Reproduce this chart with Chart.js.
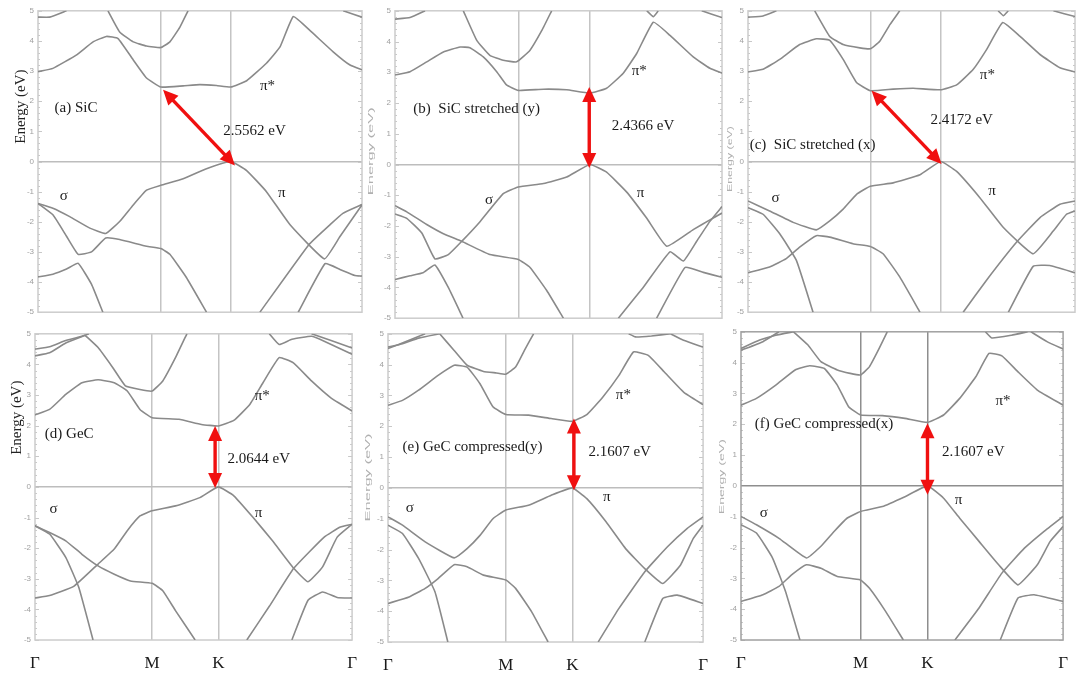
<!DOCTYPE html>
<html>
<head>
<meta charset="utf-8">
<script src="https://cdn.jsdelivr.net/npm/chart.js@4.4.0/dist/chart.umd.min.js"></script>
<style>
  html, body { margin: 0; padding: 0; background: #fff; }
  #wrap { position: relative; width: 1079px; height: 675px; overflow: hidden; }
  #wrap canvas { position: absolute; }
</style>
</head>
<body>
<div id="wrap"></div>
<script>
// bands as [k along Γ-M-K-Γ (0..1), energy in eV]
const bandsA = [
  [[0,2.98],[0.046,3.09],[0.118,3.53],[0.170,3.97],[0.211,4.15],[0.247,4.08],[0.294,3.37],[0.335,2.77],[0.379,2.47],[0.448,2.51],[0.499,2.55],[0.551,2.52],[0.595,2.47],[0.644,2.68],[0.705,3.26],[0.747,3.80],[0.788,4.81],[0.839,4.35],[0.911,3.64],[0.963,3.2],[1,3.04]],
  [[0.216,5],[0.252,4.3],[0.294,3.97],[0.335,3.83],[0.379,3.78],[0.407,3.97],[0.438,4.46],[0.463,5]],
  [[0,4.79],[0.036,4.79],[0.088,5]],
  [[0.942,5],[1,4.79]],
  [[0,-1.39],[0.046,-1.55],[0.098,-1.83],[0.16,-2.21],[0.209,-2.39],[0.252,-1.99],[0.294,-1.44],[0.335,-0.95],[0.379,-0.79],[0.448,-0.57],[0.52,-0.24],[0.595,0],[0.644,-0.3],[0.705,-1.0],[0.778,-2.1],[0.884,-3.23],[0.932,-2.49],[0.989,-1.61],[1,-1.45]],
  [[0,-1.39],[0.046,-1.77],[0.088,-2.48],[0.124,-3.08],[0.165,-3.0],[0.209,-2.54],[0.252,-2.59],[0.335,-2.81],[0.379,-2.89],[0.407,-3.08],[0.458,-3.85],[0.52,-5]],
  [[0,-3.83],[0.046,-3.74],[0.088,-3.57],[0.124,-3.38],[0.165,-4.07],[0.2,-5]],
  [[0.685,-5],[0.836,-2.76],[0.901,-2.1],[0.941,-1.72],[1,-1.43]],
  [[0.803,-5],[0.886,-3.39],[0.932,-3.58],[0.978,-3.78],[1,-3.8]]
];
const bandsB = [
  [[0,2.91],[0.046,3.02],[0.097,3.34],[0.148,3.66],[0.199,3.82],[0.229,3.80],[0.27,3.5],[0.311,3.02],[0.341,2.59],[0.377,2.41],[0.454,2.45],[0.525,2.43],[0.596,2.32],[0.647,2.48],[0.698,2.97],[0.739,3.61],[0.79,4.63],[0.841,4.2],[0.912,3.5],[0.963,3.13],[1,2.97]],
  [[0.209,5],[0.25,4.04],[0.29,3.55],[0.331,3.39],[0.372,3.34],[0.413,3.72],[0.449,4.36],[0.479,5]],
  [[0,4.73],[0.046,4.78],[0.092,5]],
  [[0.938,5],[1,4.78]],
  [[0.77,5],[0.79,4.81],[0.805,5]],
  [[0,-1.61],[0.036,-1.75],[0.082,-2.23],[0.122,-3.07],[0.163,-2.93],[0.204,-2.5],[0.26,-1.86],[0.331,-0.95],[0.377,-0.73],[0.454,-0.62],[0.525,-0.41],[0.596,0],[0.647,-0.25],[0.708,-0.89],[0.77,-1.75],[0.831,-2.66],[0.912,-2.12],[0.963,-1.8],[1,-1.58]],
  [[0,-1.34],[0.036,-1.54],[0.097,-1.95],[0.148,-2.25],[0.204,-2.5],[0.29,-2.93],[0.377,-3.09],[0.413,-3.35],[0.464,-4.1],[0.515,-5]],
  [[0,-3.74],[0.046,-3.62],[0.086,-3.52],[0.122,-3.27],[0.163,-4.0],[0.208,-5]],
  [[0.683,-5],[0.759,-4.0],[0.841,-2.84],[0.882,-3.14],[0.923,-2.49],[0.963,-1.85],[1,-1.37]],
  [[0.8,-5],[0.887,-3.35],[0.943,-3.51],[1,-3.67]]
];
const bandsC = [
  [[0,2.97],[0.046,3.06],[0.097,3.39],[0.158,3.88],[0.209,4.07],[0.25,4.02],[0.291,3.39],[0.332,2.62],[0.374,2.35],[0.444,2.40],[0.505,2.43],[0.589,2.38],[0.638,2.54],[0.689,3.06],[0.73,3.72],[0.779,4.61],[0.832,4.15],[0.893,3.55],[0.954,3.11],[1,2.97]],
  [[0.204,5],[0.25,4.15],[0.291,3.88],[0.342,3.77],[0.374,3.74],[0.403,3.99],[0.434,4.54],[0.464,5]],
  [[0,4.79],[0.046,4.83],[0.087,5]],
  [[0.934,5],[1,4.81]],
  [[0.765,5],[0.781,4.84],[0.796,5]],
  [[0,-1.31],[0.066,-1.64],[0.138,-2.02],[0.209,-2.27],[0.25,-1.97],[0.291,-1.58],[0.332,-1.09],[0.374,-0.82],[0.444,-0.71],[0.526,-0.44],[0.589,0],[0.638,-0.33],[0.709,-1.2],[0.781,-2.19],[0.872,-3.06],[0.934,-2.3],[0.974,-1.75],[1,-1.64]],
  [[0,-1.53],[0.046,-1.75],[0.097,-2.4],[0.148,-3.28],[0.199,-5]],
  [[0,-3.69],[0.066,-3.5],[0.117,-3.22],[0.158,-2.84],[0.209,-2.46],[0.25,-2.51],[0.321,-2.73],[0.374,-2.82],[0.413,-3.06],[0.464,-3.83],[0.526,-5]],
  [[0.658,-5],[0.73,-3.93],[0.821,-2.68],[0.893,-1.86],[0.954,-1.42],[1,-1.31]],
  [[0.796,-5],[0.872,-3.48],[0.923,-3.45],[1,-3.69]]
];
const bandsD = [
  [[0,2.35],[0.046,2.53],[0.097,3.02],[0.148,3.4],[0.199,3.5],[0.25,3.4],[0.291,3.13],[0.331,2.53],[0.369,2.26],[0.454,2.21],[0.525,2.04],[0.578,1.99],[0.627,2.17],[0.678,2.7],[0.719,3.4],[0.77,4.22],[0.815,4.05],[0.872,3.46],[0.933,2.91],[1,2.48]],
  [[0.158,4.95],[0.199,4.55],[0.245,3.9],[0.285,3.3],[0.331,3.18],[0.369,3.13],[0.403,3.46],[0.443,4.22],[0.479,5]],
  [[0,4.5],[0.046,4.58],[0.097,4.78],[0.158,4.95]],
  [[0,4.28],[0.046,4.38],[0.097,4.7],[0.158,4.95],[0.17,5]],
  [[0.739,5],[0.77,4.65],[0.81,4.82],[0.872,4.92],[0.912,4.76],[1,4.33]],
  [[0.872,5],[1,4.54]],
  [[0,-3.63],[0.046,-3.55],[0.122,-3.25],[0.199,-2.52],[0.25,-2.03],[0.291,-1.43],[0.331,-0.95],[0.369,-0.78],[0.443,-0.62],[0.52,-0.35],[0.578,0],[0.627,-0.29],[0.688,-1.0],[0.749,-1.76],[0.816,-2.66],[0.861,-3.1],[0.907,-2.61],[0.953,-1.64],[1,-1.22]],
  [[0,-1.27],[0.046,-1.49],[0.097,-1.76],[0.148,-2.2],[0.199,-2.58],[0.25,-2.85],[0.301,-3.07],[0.369,-3.15],[0.403,-3.39],[0.443,-4.04],[0.505,-5]],
  [[0,-1.27],[0.046,-1.54],[0.097,-2.3],[0.138,-3.28],[0.183,-5]],
  [[0.668,-5],[0.739,-3.9],[0.816,-2.66],[0.912,-1.64],[0.963,-1.31],[1,-1.22]],
  [[0.81,-5],[0.861,-3.7],[0.907,-3.43],[0.953,-3.61],[1,-3.63]]
];
const bandsE = [
  [[0,2.68],[0.046,2.84],[0.097,3.17],[0.159,3.65],[0.21,3.98],[0.251,3.92],[0.292,3.38],[0.333,2.63],[0.374,2.38],[0.446,2.36],[0.518,2.25],[0.585,2.16],[0.631,2.38],[0.682,2.95],[0.733,3.65],[0.779,4.41],[0.826,4.3],[0.877,3.76],[0.938,3.11],[1,2.7]],
  [[0.164,5],[0.21,4.46],[0.251,3.98],[0.303,3.78],[0.344,3.73],[0.374,3.69],[0.405,3.92],[0.436,4.52],[0.462,5]],
  [[0,4.57],[0.046,4.68],[0.097,4.86],[0.164,5]],
  [[0,4.52],[0.067,4.79],[0.118,5]],
  [[0.764,5],[0.785,4.9],[0.836,4.93],[0.897,5]],
  [[0.897,5],[0.938,4.79],[1,4.57]],
  [[0,-0.94],[0.046,-1.21],[0.118,-1.75],[0.21,-2.27],[0.251,-1.97],[0.292,-1.54],[0.333,-1.0],[0.374,-0.72],[0.446,-0.56],[0.518,-0.24],[0.585,0],[0.631,-0.35],[0.692,-1.1],[0.754,-1.97],[0.815,-2.62],[0.872,-3.1],[0.928,-2.51],[0.969,-1.64],[1,-1.21]],
  [[0,-1.21],[0.046,-1.48],[0.097,-2.29],[0.149,-3.37],[0.19,-5]],
  [[0,-3.75],[0.067,-3.54],[0.118,-3.26],[0.159,-2.94],[0.21,-2.49],[0.251,-2.56],[0.303,-2.83],[0.374,-2.99],[0.405,-3.26],[0.456,-4.02],[0.508,-5]],
  [[0.667,-5],[0.733,-3.91],[0.815,-2.72],[0.887,-1.91],[0.949,-1.32],[1,-0.94]],
  [[0.815,-5],[0.872,-3.59],[0.918,-3.48],[1,-3.75]]
];
const bandsF = [
  [[0,2.62],[0.048,2.84],[0.108,3.27],[0.168,3.76],[0.213,3.9],[0.259,3.81],[0.299,3.27],[0.334,2.57],[0.371,2.3],[0.439,2.28],[0.509,2.19],[0.579,2.06],[0.629,2.3],[0.679,2.84],[0.729,3.54],[0.77,4.3],[0.81,4.22],[0.86,3.7],[0.92,3.11],[1,2.62]],
  [[0.163,5],[0.208,4.57],[0.248,4.03],[0.299,3.76],[0.339,3.65],[0.371,3.6],[0.399,3.87],[0.429,4.46],[0.454,5]],
  [[0,4.46],[0.058,4.73],[0.108,4.89],[0.163,5]],
  [[0,4.4],[0.068,4.68],[0.118,5]],
  [[0.759,5],[0.779,4.8],[0.84,4.89],[0.89,5]],
  [[0.9,5],[0.95,4.68],[1,4.44]],
  [[0,-0.99],[0.048,-1.26],[0.118,-1.7],[0.203,-2.34],[0.249,-1.95],[0.289,-1.48],[0.329,-1.05],[0.371,-0.83],[0.439,-0.67],[0.509,-0.35],[0.579,0],[0.629,-0.4],[0.679,-1.05],[0.739,-1.8],[0.8,-2.56],[0.86,-3.21],[0.92,-2.56],[0.96,-1.8],[1,-1.32]],
  [[0,-1.26],[0.048,-1.53],[0.098,-2.34],[0.138,-3.42],[0.183,-5]],
  [[0,-3.75],[0.068,-3.53],[0.118,-3.26],[0.158,-2.88],[0.203,-2.56],[0.248,-2.67],[0.299,-2.94],[0.371,-3.05],[0.399,-3.32],[0.449,-4.07],[0.504,-5]],
  [[0.664,-5],[0.739,-3.96],[0.81,-2.83],[0.88,-2.02],[0.94,-1.48],[1,-0.99]],
  [[0.805,-5],[0.86,-3.64],[0.91,-3.53],[1,-3.75]]
];

const panelNames = ['(a) SiC', '(b)  SiC stretched (y)', '(c)  SiC stretched (x)',
                    '(d) GeC', '(e) GeC compressed(y)', '(f) GeC compressed(x)'];
const gapValues = ['2.5562 eV', '2.4366 eV', '2.4172 eV', '2.0644 eV', '2.1607 eV', '2.1607 eV'];
// gap arrow ends [k1, E1, k2, E2]
const gapArrows = [
  [0.386, 2.38, 0.608, -0.13],
  [0.594, 2.52, 0.594, -0.11],
  [0.378, 2.35, 0.592, -0.08],
  [0.568, 1.99, 0.568, -0.04],
  [0.59, 2.25, 0.59, -0.08],
  [0.579, 2.03, 0.579, -0.29]
];
// positions of M and K on the path
const highSym = [[0.379, 0.595], [0.377, 0.596], [0.374, 0.589], [0.369, 0.578], [0.374, 0.585], [0.371, 0.579]];
const pathLabels = ['Γ', 'M', 'K', 'Γ'];
const bandSymbols = ['π*', 'π', 'σ'];
const allBands = [bandsA, bandsB, bandsC, bandsD, bandsE, bandsF];

// layout: plot boxes in page pixels
const boxes = [
  {L: 38,  T: 10,  R: 362,  B: 315, yw: 38, xh: 6},
  {L: 395, T: 10,  R: 722,  B: 321, yw: 30, xh: 6},
  {L: 748, T: 10,  R: 1075, B: 315, yw: 30, xh: 6},
  {L: 35,  T: 333, R: 362,  B: 640, yw: 35, xh: 36},
  {L: 388, T: 333, R: 713,  B: 642, yw: 30, xh: 36},
  {L: 741, T: 331, R: 1073, B: 640, yw: 30, xh: 36}
];
// text anchor positions (k, E): title, gap, π*, π, σ
const notePos = [
  [[0.051, 1.78], [0.572, 1.02], [0.685, 2.51], [0.741, -1.06], [0.067, -1.15]],
  [[0.056, 1.79], [0.663, 1.25], [0.724, 3.04], [0.739, -0.94], [0.275, -1.16]],
  [[0.005, 0.55], [0.558, 1.37], [0.709, 2.86], [0.735, -0.98], [0.072, -1.2]],
  [[0.031, 1.72], [0.607, 0.9],  [0.693, 2.97], [0.693, -0.84], [0.046, -0.73]],
  [[0.046, 1.33], [0.636, 1.17], [0.723, 3.0],  [0.682, -0.29], [0.056, -0.67]],
  [[0.043, 2.0],  [0.624, 1.11], [0.79, 2.75],  [0.664, -0.45], [0.058, -0.89]]
];
// y title: distance left of plot, centre energy, font size, colour, stretched length
const yTitles = [
  {dx: 17, E: 1.82, size: 15, color: '#222', len: 0},
  {dx: 24, E: 0.43, size: 8, color: '#b0b0b0', len: 88},
  {dx: 18, E: 0.08, size: 8, color: '#b0b0b0', len: 66},
  {dx: 18, E: 2.26, size: 15, color: '#222', len: 0},
  {dx: 20, E: 0.34, size: 8, color: '#b0b0b0', len: 88},
  {dx: 19, E: 0.3, size: 8, color: '#b0b0b0', len: 75}
];

const serif = '"Liberation Serif", "Times New Roman", serif';

function drawArrow(ctx, x1, y1, x2, y2) {
  const ang = Math.atan2(y2 - y1, x2 - x1);
  const hl = 15, hw = 7;
  const c = Math.cos(ang), s = Math.sin(ang);
  ctx.beginPath();
  ctx.moveTo(x1 + c * hl * 0.9, y1 + s * hl * 0.9);
  ctx.lineTo(x2 - c * hl * 0.9, y2 - s * hl * 0.9);
  ctx.stroke();
  [[x1, y1, 1], [x2, y2, -1]].forEach(([px, py, d]) => {
    const bx = px + c * hl * d, by = py + s * hl * d;
    ctx.beginPath();
    ctx.moveTo(px, py);
    ctx.lineTo(bx - s * hw, by + c * hw);
    ctx.lineTo(bx + s * hw, by - c * hw);
    ctx.closePath();
    ctx.fill();
  });
}

const deco = {
  id: 'deco',
  beforeDatasetsDraw(chart, args, o) {
    const {ctx, chartArea: a, scales: {y}} = chart;
    ctx.save();
    ctx.strokeStyle = '#c8c8c8';
    ctx.lineWidth = 1;
    for (let i = 0; i <= 50; i++) {
      const py = Math.round(y.getPixelForValue(-5 + i * 0.2)) + 0.5;
      const len = i % 5 === 0 ? 4 : 2;
      ctx.beginPath();
      ctx.moveTo(a.left, py); ctx.lineTo(a.left + len, py);
      ctx.moveTo(a.right, py); ctx.lineTo(a.right - len, py);
      ctx.stroke();
    }
    ctx.strokeStyle = o.frame;
    ctx.lineWidth = 1.5;
    ctx.strokeRect(a.left, a.top, a.width, a.height);
    ctx.restore();
  },
  afterDatasetsDraw(chart, args, o) {
    const {ctx, chartArea: a, scales: {x, y}} = chart;
    const i = o.idx;
    ctx.save();
    // gap arrow
    const g = gapArrows[i];
    ctx.strokeStyle = '#f01010';
    ctx.fillStyle = '#f01010';
    ctx.lineWidth = 3.4;
    drawArrow(ctx, x.getPixelForValue(g[0]), y.getPixelForValue(g[1]),
                   x.getPixelForValue(g[2]), y.getPixelForValue(g[3]));
    // labels
    const texts = [panelNames[i], gapValues[i]].concat(bandSymbols);
    ctx.fillStyle = '#1a1a1a';
    ctx.textBaseline = 'middle';
    ctx.textAlign = 'left';
    ctx.font = '15px ' + serif;
    texts.forEach((t, j) => {
      const p = notePos[i][j];
      ctx.fillText(t, x.getPixelForValue(p[0]), y.getPixelForValue(p[1]));
    });
    // y title
    const yt = yTitles[i];
    ctx.translate(a.left - yt.dx, y.getPixelForValue(yt.E));
    ctx.rotate(-Math.PI / 2);
    ctx.fillStyle = yt.color;
    ctx.textAlign = 'center';
    if (yt.len) {
      ctx.font = yt.size + 'px "Liberation Sans", Arial, sans-serif';
      const w = ctx.measureText('Energy (eV)').width;
      ctx.scale(yt.len / w, 1);
      ctx.fillText('Energy (eV)', 0, 0);
    } else {
      ctx.font = yt.size + 'px ' + serif;
      ctx.fillText('Energy (eV)', 0, 0);
    }
    ctx.restore();
  }
};

const wrap = document.getElementById('wrap');
boxes.forEach((b, i) => {
  const cv = document.createElement('canvas');
  const padTop = 8, padRight = 8;
  const w = (b.R - b.L) + b.yw + padRight;
  const h = (b.B - b.T) + padTop + b.xh;
  cv.width = w; cv.height = h;
  cv.style.left = (b.L - b.yw) + 'px';
  cv.style.top = (b.T - padTop) + 'px';
  cv.style.width = w + 'px';
  cv.style.height = h + 'px';
  wrap.appendChild(cv);

  const [kM, kK] = highSym[i];
  const lastPanel = i === 5;
  const lineCol = lastPanel ? '#8e8e8e' : '#c4c4c4';
  const bottomRow = i >= 3;

  new Chart(cv, {
    type: 'line',
    data: {
      datasets: allBands[i].map(band => ({
        data: band.map(p => ({x: p[0], y: p[1]})),
        borderColor: '#8a8a8a',
        borderWidth: 1.6,
        pointRadius: 0,
        tension: 0.12,
        fill: false
      }))
    },
    options: {
      responsive: false,
      animation: false,
      events: [],
      layout: {padding: {top: padTop, right: padRight, left: 0, bottom: 0}},
      plugins: {
        legend: {display: false},
        tooltip: {enabled: false},
        deco: {idx: i, frame: lastPanel ? '#a0a0a0' : '#cccccc'}
      },
      scales: {
        x: {
          type: 'linear',
          min: 0, max: 1,
          afterBuildTicks: s => { s.ticks = [0, kM, kK, 1].map(v => ({value: v})); },
          afterFit: s => { s.height = b.xh; },
          grid: {
            color: c => (c.tick && (c.tick.value === kM || c.tick.value === kK)) ? lineCol : 'rgba(0,0,0,0)',
            lineWidth: 1.5,
            drawTicks: false
          },
          border: {display: false},
          ticks: {
            display: bottomRow,
            autoSkip: false,
            maxRotation: 0,
            padding: 13,
            color: '#1a1a1a',
            font: {family: serif, size: 17},
            callback: (v, j) => pathLabels[j]
          }
        },
        y: {
          min: -5, max: 5,
          afterFit: s => { s.width = b.yw; },
          grid: {
            color: c => (c.tick && c.tick.value === 0) ? (lastPanel ? '#8e8e8e' : '#bdbdbd') : 'rgba(0,0,0,0)',
            lineWidth: 1.5,
            drawTicks: false
          },
          border: {display: false},
          ticks: {
            stepSize: 1,
            padding: 4,
            color: '#a0a0a0',
            font: {size: 8}
          }
        }
      }
    },
    plugins: [deco]
  });
});
</script>
</body>
</html>
